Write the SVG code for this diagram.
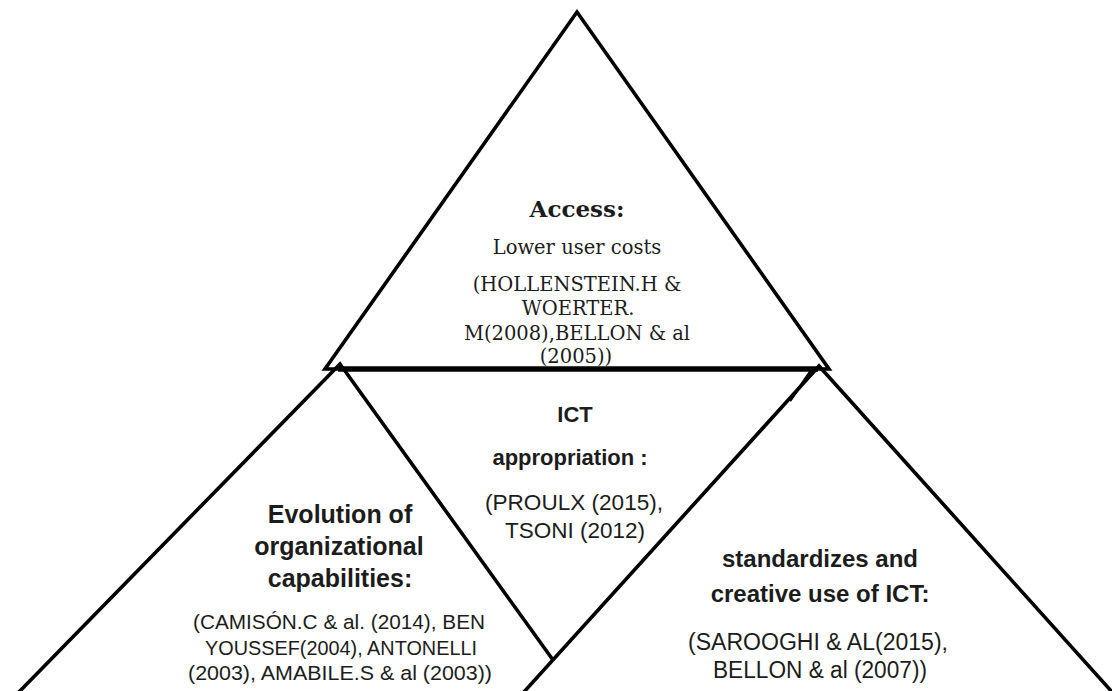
<svg xmlns="http://www.w3.org/2000/svg" width="1112" height="691" viewBox="0 0 1112 691">
  <style>
    .edge { fill: none; stroke: #000; stroke-width: 3.6; stroke-linejoin: miter; stroke-miterlimit: 10; }
    .base { stroke: #000; stroke-width: 5.5; }
    text { fill: #1c1c1c; text-anchor: middle; }
    .serif { font-family: "DejaVu Serif", "Liberation Serif", serif; font-size: 19.5px; }
    .serifb { font-family: "DejaVu Serif", "Liberation Serif", serif; font-size: 23px; font-weight: bold; }
    .sans { font-family: "Liberation Sans", Arial, sans-serif; }
    .b { font-weight: bold; }
  </style>
  <rect width="1112" height="691" fill="#fff"/>
  <g id="connectors">
    <polygon class="edge" points="577,12 325,369 829,369"/>
    <line class="base" x1="338" y1="369" x2="818" y2="369"/>
    <polyline class="edge" points="18,693 340,364 553,660"/>
    <polyline class="edge" points="523,693 819,366 1113,693"/>
    <line class="edge" x1="812" y1="369" x2="790" y2="401" style="stroke-width:2.5"/>
  </g>
  <g id="node-access">
    <text class="serifb" x="577" y="217">Access:</text>
    <text class="serif" x="577" y="254">Lower user costs</text>
    <text class="serif" x="577" y="291">(HOLLENSTEIN.H &amp;</text>
    <text class="serif" x="578" y="315">WOERTER.</text>
    <text class="serif" x="577" y="340">M(2008),BELLON &amp; al</text>
    <text class="serif" x="576" y="363">(2005))</text>
  </g>
  <g id="node-ict">
    <text class="sans b" x="575" y="422" font-size="22">ICT</text>
    <text class="sans b" x="570" y="465" font-size="22">appropriation :</text>
    <text class="sans" x="574" y="510" font-size="22" textLength="178" lengthAdjust="spacingAndGlyphs">(PROULX (2015),</text>
    <text class="sans" x="575" y="538" font-size="22" textLength="140" lengthAdjust="spacingAndGlyphs">TSONI (2012)</text>
  </g>
  <g id="node-evolution">
    <text class="sans b" x="340" y="523" font-size="25">Evolution of</text>
    <text class="sans b" x="339" y="555" font-size="25">organizational</text>
    <text class="sans b" x="340" y="587" font-size="25">capabilities:</text>
    <text class="sans" x="339" y="629" font-size="20.5" textLength="292" lengthAdjust="spacingAndGlyphs">(CAMISÓN.C &amp; al. (2014), BEN</text>
    <text class="sans" x="341" y="655" font-size="20.5" textLength="272" lengthAdjust="spacingAndGlyphs">YOUSSEF(2004), ANTONELLI</text>
    <text class="sans" x="340" y="680" font-size="20.5" textLength="304" lengthAdjust="spacingAndGlyphs">(2003), AMABILE.S &amp; al (2003))</text>
  </g>
  <g id="node-standardizes">
    <text class="sans b" x="820" y="567" font-size="24">standardizes and</text>
    <text class="sans b" x="820" y="602" font-size="24">creative use of ICT:</text>
    <text class="sans" x="818" y="650" font-size="23" textLength="260" lengthAdjust="spacingAndGlyphs">(SAROOGHI &amp; AL(2015),</text>
    <text class="sans" x="820" y="678" font-size="23" textLength="214" lengthAdjust="spacingAndGlyphs">BELLON &amp; al (2007))</text>
  </g>
</svg>
